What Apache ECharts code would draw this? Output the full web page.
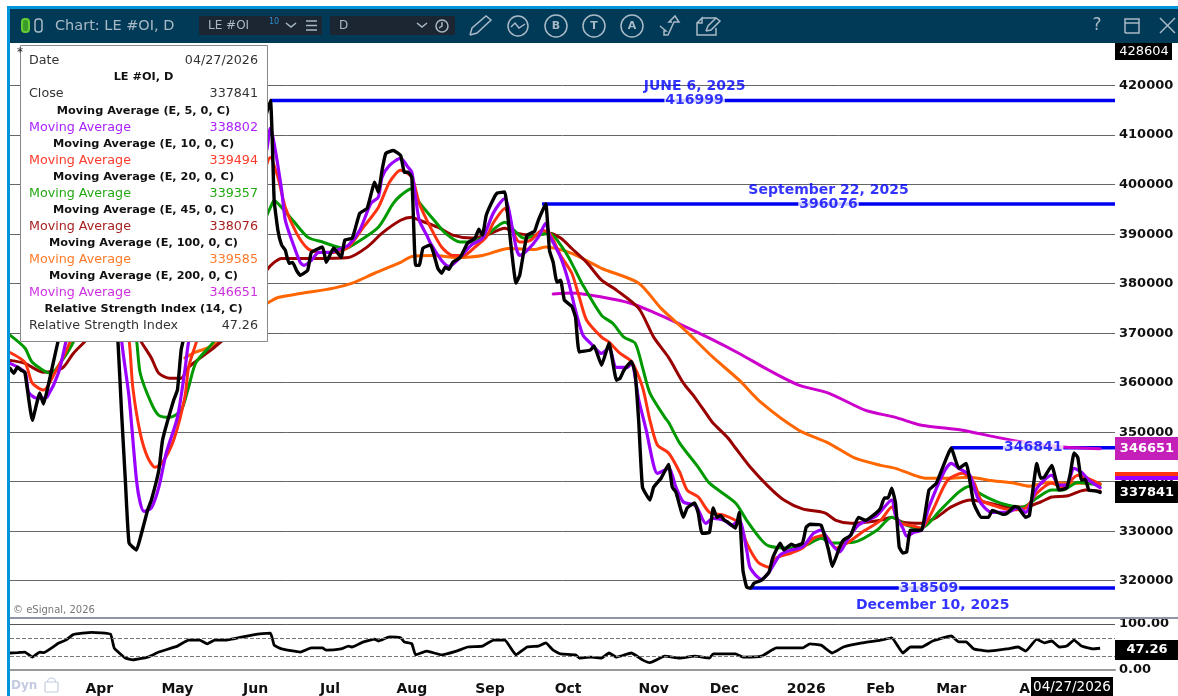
<!DOCTYPE html>
<html>
<head>
<meta charset="utf-8">
<title>LE #OI, D</title>
<style>html,body{margin:0;padding:0;background:#fff}#container{width:1178px;height:696px}</style>
<script src="https://cdn.jsdelivr.net/npm/echarts@6/dist/echarts.min.js"></script>
</head>
<body>
<div id="container"></div>
<script>
// x of each pair is the trading day number on the axis, y is open interest
var closeData = [[0,362900],[1,361900],[2,363100],[3,362500],[4,362100],[6,352400],[8,357900],[9,355700],[10,358500],[13,368600],[16,376000],[18,385000],[20,395000],[24,398000],[26,395000],[27,390000],[29,368600],[30,353800],[31,340300],[32,327600],[34,326200],[35,328600],[37,334300],[38,336300],[40,342300],[41,348400],[44,356500],[45,358500],[46,366600],[47,370000],[50,385000],[54,395000],[58,402000],[62,405000],[66,408000],[68,412000],[70,417000],[71,396800],[72,390800],[73,387800],[74,386700],[75,384100],[76,384300],[77,382700],[78,381700],[80,382700],[81,386300],[84,387400],[85,384300],[87,387200],[89,385300],[90,388800],[92,389200],[94,394200],[96,395200],[98,400500],[99,398500],[100,402900],[101,406300],[103,406900],[105,405900],[106,402500],[107,402500],[108,401500],[109,383700],[110,383700],[111,387200],[113,387800],[115,383100],[116,382100],[117,383300],[118,382900],[119,384300],[121,385300],[123,388200],[125,389200],[126,391000],[127,389800],[128,393800],[130,397200],[131,398300],[133,398500],[134,392200],[136,380100],[137,381700],[138,386100],[139,389800],[141,390600],[142,392800],[144,396100],[145,386700],[146,384300],[147,380300],[148,380700],[149,376700],[151,375400],[152,373200],[153,366200],[156,366600],[157,367400],[159,363500],[161,368000],[163,360500],[164,360900],[165,362500],[167,364300],[168,362000],[169,352000],[170,338900],[172,336300],[173,338900],[175,340700],[177,343500],[178,338900],[179,337900],[181,332800],[182,334700],[184,335700],[185,333600],[186,329600],[188,329800],[189,334700],[190,332800],[191,333200],[192,332200],[193,331800],[195,330600],[196,333800],[197,322100],[198,318700],[199,318500],[200,319500],[202,320100],[204,321700],[205,324600],[207,327600],[208,326200],[210,327400],[211,327000],[213,327600],[214,330800],[215,331400],[218,331200],[220,326200],[221,322900],[223,326800],[224,328200],[226,329200],[228,332800],[230,332200],[233,333800],[234,334700],[235,336700],[236,336700],[237,338700],[238,335700],[239,326800],[240,325600],[241,325800],[242,330200],[245,330200],[247,338300],[249,339700],[253,346800],[255,342700],[257,343700],[259,335700],[261,332800],[263,332800],[264,334200],[267,333400],[268,333600],[270,335000],[271,334800],[273,332800],[274,333200],[276,343700],[277,340700],[278,340900],[280,343300],[282,338300],[284,338700],[285,341700],[286,345800],[287,344900],[288,340300],[289,340500],[290,338300],[292,338100],[293,337841]];
var ema5Data = [[0,363900],[4,362100],[5,358100],[7,356900],[9,356900],[10,357100],[13,361900],[15,368200],[18,378000],[21,388000],[25,394000],[28,390000],[30,368600],[32,357100],[34,340300],[35,335700],[36,334000],[38,334700],[40,338900],[42,345800],[45,353000],[47,362500],[48,368200],[52,382000],[56,392000],[60,398000],[64,401000],[68,405000],[69,407000],[70,411400],[71,408300],[73,398900],[74,392800],[76,388200],[78,384300],[79,383700],[81,384700],[83,386300],[86,386300],[89,387100],[91,387800],[94,390800],[97,396200],[99,397500],[100,401500],[102,403900],[105,405300],[107,403500],[108,402500],[109,397500],[110,392800],[112,389800],[113,388200],[116,384700],[118,383500],[121,385300],[124,387800],[127,389200],[130,394400],[133,397200],[134,395200],[136,387400],[137,385700],[139,386700],[142,389400],[144,392200],[145,389800],[148,385300],[150,380700],[152,374600],[154,369600],[156,368000],[159,365900],[161,367000],[163,363100],[166,363100],[167,364100],[169,356500],[171,350400],[173,343300],[174,341700],[177,342700],[179,338900],[181,335900],[184,335300],[185,334300],[187,331600],[189,332600],[192,332200],[194,331200],[196,332200],[198,326200],[199,322500],[202,320300],[204,321700],[207,325200],[210,326200],[213,326800],[216,329600],[218,330200],[220,328200],[223,325800],[225,328200],[228,331200],[233,333200],[237,336300],[238,333200],[240,330600],[241,329000],[243,329800],[245,330200],[247,334900],[251,341900],[253,343700],[255,342700],[258,341300],[260,336900],[262,334700],[264,333800],[268,333800],[271,334700],[273,333800],[274,334900],[276,338700],[280,341300],[282,339300],[284,339300],[286,342700],[288,341900],[290,340300],[293,338802]];
var ema10Data = [[0,366100],[4,364100],[6,359900],[9,358500],[12,361900],[16,368000],[20,378000],[24,386000],[28,386000],[32,368600],[33,359100],[35,349800],[37,344900],[39,342900],[41,343900],[44,348400],[47,357100],[48,363100],[50,368000],[54,378000],[58,386000],[62,392000],[66,396000],[70,405500],[72,401500],[74,395400],[77,390200],[80,387100],[83,386300],[87,386300],[91,387400],[95,391400],[99,395400],[102,400500],[105,402900],[108,401500],[110,396200],[113,391400],[116,387400],[119,385700],[122,385700],[125,387400],[128,389400],[130,392400],[133,395200],[135,390800],[137,388400],[140,388800],[143,390800],[145,390200],[148,385700],[151,382100],[153,377300],[155,372600],[159,369200],[161,368200],[164,365900],[167,364300],[170,359100],[172,352400],[174,347400],[177,345800],[180,341900],[182,338300],[185,336900],[188,333800],[192,333200],[196,331600],[198,327600],[201,323800],[204,322700],[206,324600],[210,325600],[213,326600],[216,328600],[219,329200],[222,326600],[225,327600],[229,329800],[234,332200],[237,334900],[239,331800],[243,331000],[245,330600],[248,334200],[252,340300],[256,341700],[259,339900],[261,336300],[264,335300],[269,334300],[273,334700],[276,337700],[280,339700],[283,338900],[287,341300],[289,340900],[293,339494]];
var ema20Data = [[0,369600],[4,367000],[6,364100],[11,361900],[14,364500],[17,368200],[21,376000],[25,382000],[29,382000],[32,376000],[34,368600],[35,361900],[38,355800],[40,353400],[43,353000],[46,354400],[48,359100],[50,364100],[55,368600],[60,378000],[64,385000],[68,392000],[70,395400],[71,396800],[73,395400],[76,392800],[80,389400],[84,388400],[90,387100],[93,388200],[99,391400],[103,396200],[105,397800],[108,399200],[110,396400],[114,392800],[117,390200],[121,388400],[124,388400],[128,389800],[133,392400],[136,390400],[138,389200],[142,389800],[145,390200],[149,386700],[151,384100],[154,379700],[159,373600],[162,372000],[165,369200],[168,368000],[170,363100],[172,357900],[176,353000],[177,352000],[180,347800],[185,342900],[188,339700],[195,335700],[198,332200],[202,328200],[204,327000],[209,326600],[214,327200],[218,328600],[221,327600],[227,327800],[233,330200],[237,332800],[241,331200],[245,330600],[250,334200],[255,337900],[258,339100],[260,337900],[263,336700],[267,335500],[272,334800],[276,336700],[280,338300],[283,338300],[287,339900],[289,339700],[293,339357]];
var ema45Data = [[0,364500],[4,363900],[9,362100],[14,362900],[17,365900],[20,368200],[25,372000],[29,374000],[33,372000],[35,368600],[38,365000],[40,361900],[43,360900],[46,360900],[48,363100],[51,364900],[55,367200],[58,369200],[62,373000],[66,378000],[69,382700],[71,384300],[73,385100],[81,385100],[91,385300],[96,387400],[100,390200],[105,392800],[108,393400],[110,392800],[115,391400],[119,389800],[124,389200],[128,389800],[133,391200],[136,390200],[141,389800],[145,390200],[148,389200],[151,387100],[155,384300],[159,380700],[163,378700],[169,375000],[173,369200],[177,365100],[181,359900],[184,357100],[188,352800],[189,351800],[193,348800],[195,346800],[199,342900],[204,338900],[208,336300],[213,334500],[219,333700],[222,332200],[226,331600],[230,331800],[234,332200],[237,332800],[240,331800],[245,331600],[249,332800],[253,334900],[258,336300],[263,335700],[268,334900],[273,334900],[277,335900],[280,336900],[284,337100],[287,337900],[289,338300],[293,338076]];
var ema100Data = [[47,365000],[50,366200],[53,367000],[58,369200],[62,372000],[66,375000],[69,376000],[72,377200],[78,378000],[87,379100],[92,380100],[98,382100],[105,384300],[108,385500],[114,385700],[120,385300],[127,385700],[134,387100],[141,386900],[144,387400],[151,386100],[159,383100],[169,380100],[175,375000],[182,370200],[189,365100],[196,360500],[202,355900],[212,350400],[220,347800],[227,344800],[234,343300],[238,342700],[243,341300],[246,340700],[252,340700],[258,340900],[263,340300],[270,339700],[274,339100],[279,339900],[284,339700],[290,339700],[293,339585]];
var ema200Data = [[146,377900],[151,378100],[159,377300],[167,376000],[173,374200],[179,372200],[188,369000],[196,365900],[204,362500],[212,359500],[220,357900],[230,354400],[238,353000],[245,351400],[256,350400],[265,349000],[274,347800],[283,347000],[293,346651]];
var rsiData = [[0,37],[2,37.6],[4,39],[6,28],[8,39],[9,37.6],[13,58],[15,65],[17,77],[22,82],[27,78],[28,48],[31,26],[33,22],[37,28],[40,39],[45,52],[48,65],[51,65],[53,57],[55,65],[58,65],[65,76],[70,80],[71,54],[73,46],[78,39],[81,48],[84,48],[85,43],[89,46],[91,52],[92,50],[95,61],[98,67],[99,63],[102,72],[105,70],[106,61],[108,57],[109,33],[112,41],[116,33],[120,41],[123,50],[127,52],[130,65],[133,65],[136,33],[139,50],[142,52],[144,59],[146,43],[148,35],[152,33],[153,26],[156,28],[159,26],[161,37],[163,28],[167,37],[170,22],[172,16],[176,30],[180,26],[184,30],[188,26],[189,35],[195,35],[197,28],[202,30],[206,48],[213,48],[215,57],[218,54],[221,37],[224,50],[229,59],[234,65],[237,70],[240,37],[242,50],[245,50],[248,63],[253,74],[255,61],[257,61],[259,46],[263,41],[268,46],[271,50],[273,41],[276,67],[278,59],[280,63],[282,50],[284,52],[286,65],[288,52],[291,46],[293,47.26]];

var priceTicks = [320000,330000,340000,350000,360000,370000,380000,390000,400000,410000,420000];
var holidays = ['2025-04-18','2025-05-26','2025-06-19','2025-07-04','2025-09-01','2025-11-27','2025-12-25','2026-01-01','2026-01-19','2026-02-16'];
var monthLabels = {'2025-04-01':'Apr','2025-05-01':'May','2025-06-02':'Jun','2025-07-01':'Jul','2025-08-01':'Aug','2025-09-02':'Sep','2025-10-01':'Oct','2025-11-03':'Nov','2025-12-01':'Dec','2026-01-02':'2026','2026-02-02':'Feb','2026-03-02':'Mar','2026-04-01':'Apr'};

// from, level, label day, value text, date label day, date text, date label above (-) or below (+)
var levels = [
    [70,416999,184,'416999',184,'JUNE 6, 2025',-14],
    [143,396076,220,'396076',220,'September 22, 2025',-14],
    [199,318509,247,'318509',248,'December 10, 2025',17],
    [253,346841,275,'346841',null,'',0]
];

var legendRows = [
    ['Date','04/27/2026','#333'],
    ['LE #OI, D'],
    ['Close','337841','#333'],
    ['Moving Average (E, 5, 0, C)'],
    ['Moving Average','338802','#aa22ff'],
    ['Moving Average (E, 10, 0, C)'],
    ['Moving Average','339494','#ff3a2a'],
    ['Moving Average (E, 20, 0, C)'],
    ['Moving Average','339357','#22a812'],
    ['Moving Average (E, 45, 0, C)'],
    ['Moving Average','338076','#a82020'],
    ['Moving Average (E, 100, 0, C)'],
    ['Moving Average','339585','#ff7a2a'],
    ['Moving Average (E, 200, 0, C)'],
    ['Moving Average','346651','#cc30e0'],
    ['Relative Strength Index (14, C)'],
    ['Relative Strength Index','47.26','#333']
];

var categories = [];
var d = new Date(Date.UTC(2025, 1, 26));
while (categories.length < 298) {
    var s = d.toISOString().slice(0, 10);
    if (d.getUTCDay() > 0 && d.getUTCDay() < 6 && holidays.indexOf(s) < 0) categories.push(s);
    d.setUTCDate(d.getUTCDate() + 1);
}
var lastDay = categories.length - 1;

var FONT = '"DejaVu Sans", sans-serif';
var NAVY = '#003a57', ICON = '#a9b9c5';

function rect(x, y, w, h, fill, stroke) {
    return {type: 'rect', z: 100, shape: {x: x, y: y, width: w, height: h}, style: {fill: fill, stroke: stroke || null}};
}
function text(x, y, t, color, size, weight, align) {
    return {type: 'text', z: 101, x: x, y: y, style: {text: t, fill: color, font: (weight || 'normal') + ' ' + size + 'px ' + FONT, textAlign: align || 'left', textVerticalAlign: 'middle'}};
}
function ring(x, y, r) {
    return {type: 'circle', z: 101, shape: {cx: x, cy: y, r: r}, style: {fill: null, stroke: ICON, lineWidth: 1.5}};
}
function poly(points, color, w) {
    return {type: 'polyline', z: 101, shape: {points: points}, style: {fill: null, stroke: color || ICON, lineWidth: w || 1.5}};
}

var gfx = [
    rect(0, 0, 1178, 6, '#fff'),
    rect(7, 6, 1171, 3, '#0095db'),
    rect(7, 6, 3, 690, '#0095db'),
    rect(10, 9, 1168, 34, NAVY),
    {type: 'rect', z: 101, shape: {x: 22, y: 19, width: 7, height: 13, r: 3}, style: {fill: '#3a9a2a', stroke: '#66cc33', lineWidth: 2}},
    {type: 'rect', z: 101, shape: {x: 35, y: 19, width: 7, height: 13, r: 3}, style: {fill: null, stroke: ICON, lineWidth: 1.5}},
    text(55, 26, 'Chart: LE #OI, D', ICON, 14.5),
    rect(199, 16, 123, 19, '#1c2633'),
    text(208, 26, 'LE #OI', ICON, 12),
    text(269, 22, '10', '#2a8fd0', 8),
    poly([[286, 23], [291, 27], [296, 23]]),
    poly([[306, 21], [317, 21]]), poly([[306, 25.5], [317, 25.5]]), poly([[306, 30], [317, 30]]),
    rect(330, 16, 125, 19, '#1c2633'),
    text(339, 26, 'D', ICON, 12),
    poly([[417, 23], [422, 27], [427, 23]]),
    ring(442, 26, 6), poly([[442, 22], [442, 26], [439, 28]]),
    // drawing tools
    poly([[470, 35], [472, 28], [486, 16], [491, 20], [477, 33], [470, 35]]),
    ring(518, 26, 10), poly([[511, 27], [515, 23], [519, 28], [525, 24]]),
    ring(556, 26, 11), text(556, 26, 'B', ICON, 11, 'bold', 'center'),
    ring(594, 26, 11), text(594, 26, 'T', ICON, 11, 'bold', 'center'),
    ring(632, 26, 11), text(632, 26, 'A', ICON, 11, 'bold', 'center'),
    poly([[660, 26], [666, 31], [664, 31], [664, 35], [668, 35], [674, 22], [679, 22], [675, 16], [669, 22], [672, 22]]),
    poly([[702, 18], [716, 18]]), poly([[697, 23], [702, 18], [702, 23], [697, 23], [697, 35], [716, 35], [716, 28]]),
    poly([[706, 31], [708, 26], [716, 18], [720, 21], [711, 30], [706, 31]]),
    text(1097, 26, '?', ICON, 17, 'normal', 'center'),
    poly([[1125, 33], [1125, 19], [1139, 19], [1139, 33], [1125, 33]]), poly([[1125, 23], [1139, 23]]),
    poly([[1160, 18], [1175, 33]]), poly([[1175, 18], [1160, 33]]),
    // right hand value tags
    rect(1115, 43, 57, 17, '#000'),
    text(1144, 51.5, '428604', '#fff', 13, 'normal', 'center'),
    rect(1115, 437, 63, 23, '#c41fb8'),
    text(1147, 449, '346651', '#fff', 13, 'bold', 'center'),
    rect(1115, 472, 63, 4, '#ff3311'),
    rect(1115, 476, 63, 4, '#9900ff'),
    rect(1115, 481, 63, 22, '#000'),
    text(1147, 492.5, '337841', '#fff', 13, 'bold', 'center'),
    rect(1115, 640, 63, 20, '#000'),
    text(1147, 650, '47.26', '#fff', 13, 'bold', 'center'),
    rect(1115, 673, 63, 23, '#fff'),
    rect(1031, 677, 82, 19, '#000'),
    text(1072, 687, '04/27/2026', '#fff', 13.5, 'normal', 'center'),
    // panel furniture
    text(13, 610, '\u00a9 eSignal, 2026', '#777', 10),
    rect(10, 617, 1168, 2, '#8f94a8'),
    text(11, 686, 'Dyn', '#c3cbe0', 12, 'bold'),
    {type: 'rect', z: 101, shape: {x: 45, y: 682, width: 13, height: 10, r: 1}, style: {fill: null, stroke: '#c3cbe0', lineWidth: 1.2}},
    {type: 'arc', z: 101, shape: {cx: 51.5, cy: 682, r: 4, startAngle: Math.PI, endAngle: 0}, style: {fill: null, stroke: '#c3cbe0', lineWidth: 1.2}},
    text(17, 53, '*', '#222', 12),
    // values window
    rect(20.5, 45.5, 247, 296, '#fff', '#8a8a8a')
];
legendRows.forEach(function (r, i) {
    var y = 61 + i * 16.55;
    if (r.length === 1) {
        gfx.push(text(143.5, y, r[0], '#111', 11.3, 'bold', 'center'));
    } else {
        gfx.push(text(29, y, r[0], r[2], 12.7));
        gfx.push(text(258, y, r[1], r[2], 12.7, 'normal', 'right'));
    }
});

function priceLine(name, data, color, w, smooth) {
    return {
        name: name, type: 'line', data: data, xAxisIndex: 0, yAxisIndex: 0, showSymbol: false, silent: true, smooth: smooth,
        lineStyle: {color: color, width: w, join: 'round', cap: 'round'}, itemStyle: {color: color}, z: 3
    };
}

var series = [];
levels.forEach(function (l) {
    series.push({
        type: 'line', data: [[l[0], l[1]], [lastDay, l[1]]], xAxisIndex: 0, yAxisIndex: 0, showSymbol: false, silent: true,
        lineStyle: {color: '#0000f0', width: 3.5}, z: 2
    });
});
series.push(priceLine('EMA 200', ema200Data, '#cc00cc', 3, 0.25));
series.push(priceLine('EMA 100', ema100Data, '#ff6600', 3, 0.25));
series.push(priceLine('EMA 45', ema45Data, '#990000', 3, 0.25));
series.push(priceLine('EMA 20', ema20Data, '#009900', 3, 0.25));
series.push(priceLine('EMA 10', ema10Data, '#ff3311', 3, 0.25));
series.push(priceLine('EMA 5', ema5Data, '#9900ff', 3.2, 0.25));
series.push(priceLine('Close', closeData, '#000000', 3.4, 0.12));
series.push({
    type: 'scatter', xAxisIndex: 0, yAxisIndex: 0, symbolSize: 0, silent: true, z: 5,
    data: levels.map(function (l) {
        return {value: [l[2], l[1]], label: {show: true, formatter: l[3], position: 'inside', color: '#0000ff', fontFamily: FONT, fontSize: 14, fontWeight: 'bold', backgroundColor: '#fff', padding: [0, 1]}};
    }).concat(levels.filter(function (l) { return l[4] !== null; }).map(function (l) {
        return {value: [l[4], l[1]], label: {show: true, formatter: l[5], position: 'inside', offset: [0, l[6]], color: '#0000ff', fontFamily: FONT, fontSize: 14, fontWeight: 'bold'}};
    }))
});
series.push({
    name: 'RSI', type: 'line', data: rsiData, xAxisIndex: 1, yAxisIndex: 1, showSymbol: false, silent: true,
    lineStyle: {color: '#000', width: 2.8, join: 'round'}, z: 3, smooth: 0.12,
    markLine: {silent: true, symbol: 'none', label: {show: false}, animation: false,
        lineStyle: {color: '#777', type: 'dashed', width: 1},
        data: [{yAxis: 70}, {yAxis: 30}]}
});

var myChart = echarts.init(document.getElementById('container'));
myChart.setOption({
    animation: false,
    backgroundColor: '#fff',
    grid: [
        {left: 10, right: 63, top: 43, height: 575},
        {left: 10, right: 63, top: 624, height: 46}
    ],
    xAxis: [
        {type: 'category', gridIndex: 0, data: categories, boundaryGap: false, axisLine: {show: false}, axisTick: {show: false}, axisLabel: {show: false}, splitLine: {show: false}},
        {type: 'category', gridIndex: 1, data: categories, boundaryGap: false,
            axisLine: {lineStyle: {color: '#999', width: 2}}, axisTick: {show: false}, splitLine: {show: false},
            axisLabel: {
                interval: function (i, v) { return !!monthLabels[v]; },
                formatter: function (v) { return monthLabels[v] || ''; },
                color: '#111', fontFamily: FONT, fontSize: 14, fontWeight: 'bold', margin: 12, hideOverlap: false
            }}
    ],
    yAxis: [
        {type: 'value', gridIndex: 0, position: 'right', min: 312470, max: 428604, scale: true,
            axisLine: {show: false},
            axisTick: {show: false, customValues: priceTicks},
            axisLabel: {customValues: priceTicks, formatter: function (v) { return String(v); }, color: '#111', fontFamily: FONT, fontSize: 13, fontWeight: 'bold', margin: 4, padding: [3, 0, 0, 0]},
            splitLine: {lineStyle: {color: '#666', width: 1}}},
        {type: 'value', gridIndex: 1, position: 'right', min: 0, max: 100,
            axisLine: {show: false},
            axisTick: {show: false, customValues: [0, 100]},
            axisLabel: {customValues: [0, 100], formatter: function (v) { return v.toFixed(2); }, color: '#111', fontFamily: FONT, fontSize: 13, fontWeight: 'bold', margin: 4, padding: [4, 0, 0, 0]},
            splitLine: {lineStyle: {color: '#555', width: 1}}}
    ],
    graphic: {elements: gfx},
    series: series
});
</script>
</body>
</html>
